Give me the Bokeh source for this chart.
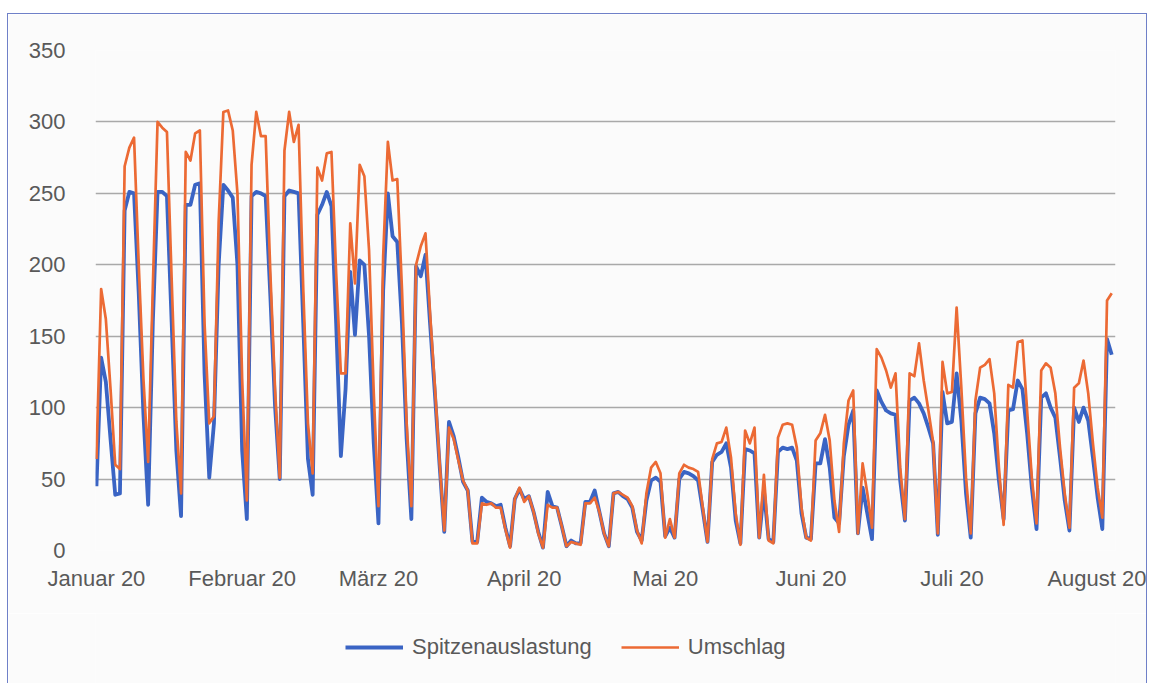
import datetime as dt
from bokeh.plotting import figure
from bokeh.layouts import column
from bokeh.models import FixedTicker, Legend, LegendItem, Range1d
from bokeh.embed import file_html
from bokeh.resources import INLINE

# ---------------- data ----------------
start_date = dt.date(2020, 1, 1)
month_labels = ["Januar 20", "Februar 20", "März 20", "April 20",
                "Mai 20", "Juni 20", "Juli 20", "August 20"]
month_starts = [dt.date(2020, m, 1) for m in range(1, 9)]
y_ticks = [0, 50, 100, 150, 200, 250, 300, 350]

# daily values from 1 Jan 2020
spitzenauslastung = [
    45, 135, 118, 78, 39, 40, 238, 251, 250, 180, 95, 32, 160, 251, 251, 248,
    160, 70, 24, 242, 242, 256, 257, 124, 51, 89, 200, 256, 252, 247, 200, 70,
    22, 248, 251, 250, 248, 178, 101, 50, 248, 252, 251, 250, 159, 64, 39, 235,
    242, 251, 241, 159, 66, 113, 195, 151, 203, 200, 150, 75, 19, 182, 250, 220,
    216, 159, 78, 22, 199, 192, 207, 158, 110, 60, 13, 90, 80, 65, 48, 42,
    6, 6, 37, 34, 33, 31, 32, 16, 3, 36, 43, 36, 38, 27, 13, 2,
    41, 31, 30, 17, 3, 7, 5, 5, 34, 34, 42, 27, 12, 3, 40, 41,
    38, 36, 30, 13, 7, 35, 49, 51, 48, 10, 16, 9, 50, 55, 54, 52,
    49, 28, 6, 62, 67, 69, 75, 58, 21, 5, 71, 70, 68, 9, 42, 8,
    6, 69, 72, 71, 72, 63, 26, 9, 8, 61, 61, 78, 58, 23, 19, 66,
    88, 98, 12, 44, 26, 8, 112, 104, 98, 96, 95, 49, 21, 105, 107, 103,
    96, 86, 75, 11, 111, 89, 90, 124, 91, 40, 9, 96, 107, 106, 103, 82,
    49, 22, 98, 99, 119, 113, 82, 44, 15, 107, 110, 100, 93, 65, 35, 14,
    100, 90, 100, 91, 65, 37, 15, 148, 137,
]
umschlag = [
    64, 183, 162, 113, 60, 57, 269, 282, 289, 200, 120, 62, 185, 300, 296, 293,
    190, 90, 40, 279, 273, 292, 294, 159, 89, 94, 230, 307, 308, 294, 250, 120,
    35, 270, 307, 290, 290, 194, 113, 51, 280, 307, 286, 298, 183, 89, 54, 268,
    259, 278, 279, 194, 124, 124, 229, 187, 270, 262, 210, 110, 31, 206, 286, 259,
    260, 183, 89, 31, 200, 213, 222, 165, 115, 62, 14, 86, 78, 63, 49, 42,
    5, 5, 33, 32, 33, 30, 30, 15, 2, 36, 44, 34, 38, 27, 12, 2,
    32, 30, 30, 17, 3, 6, 5, 4, 33, 33, 37, 27, 12, 3, 40, 41,
    39, 37, 31, 14, 5, 40, 58, 62, 54, 9, 22, 9, 54, 60, 58, 57,
    55, 30, 6, 64, 75, 76, 86, 65, 26, 4, 84, 75, 86, 9, 53, 7,
    5, 79, 88, 89, 88, 72, 30, 9, 7, 77, 82, 95, 77, 35, 13, 75,
    105, 112, 12, 61, 40, 16, 141, 135, 126, 114, 124, 58, 22, 124, 122, 145,
    119, 98, 76, 12, 132, 110, 111, 170, 114, 51, 12, 105, 128, 130, 134, 110,
    58, 18, 116, 114, 146, 147, 98, 51, 19, 126, 131, 128, 110, 72, 40, 16,
    114, 117, 133, 110, 75, 44, 23, 175, 180,
]

days = list(range(len(umschlag)))
tick_pos = [(m - start_date).days for m in month_starts]

FONT = "Liberation Sans"
TXT = "#595959"
BG = "#fbfbfb"
BLUE = "#3a64c4"
ORANGE = "#ec6a34"

# ---------------- main chart ----------------
p = figure(width=1138, height=599, output_backend="svg", toolbar_location=None,
           x_range=Range1d(-0.2, 216.8), y_range=Range1d(0, 350),
           min_border_left=87, min_border_right=31, min_border_top=36,
           min_border_bottom=63,
           background_fill_color=BG, border_fill_color=BG)
p.outline_line_color = None

p.xgrid.grid_line_color = None
p.ygrid.grid_line_color = "#a9a9a9"
p.ygrid.grid_line_width = 1.6

p.yaxis.ticker = FixedTicker(ticks=y_ticks)
p.xaxis.ticker = FixedTicker(ticks=tick_pos)
p.xaxis.major_label_overrides = {t: l for t, l in zip(tick_pos, month_labels)}

for ax in (p.xaxis[0], p.yaxis[0]):
    ax.axis_line_color = None
    ax.major_tick_line_color = None
    ax.major_tick_out = 0
    ax.major_tick_in = 0
    ax.minor_tick_line_color = None
    ax.major_label_text_font = FONT
    ax.major_label_text_font_size = "22px"
    ax.major_label_text_color = TXT
p.yaxis.major_label_standoff = 30
p.xaxis.major_label_standoff = 15

p.line(days, spitzenauslastung, line_color=BLUE, line_width=3.8, line_join="round")
p.line(days, umschlag, line_color=ORANGE, line_width=2.7, line_join="round")

# ---------------- legend strip (series drawn out of view, only the legend shows) ----
lg = figure(width=1138, height=70, output_backend="svg", toolbar_location=None,
            x_range=Range1d(-10, -9), y_range=Range1d(-10, -9),
            x_axis_location=None, y_axis_location=None,
            min_border_left=87, min_border_right=31, min_border_top=0,
            min_border_bottom=0,
            background_fill_color=BG, border_fill_color=BG)
lg.outline_line_color = None
lg.grid.visible = False
lb = lg.line(days, spitzenauslastung, line_color=BLUE, line_width=3.8)
lo = lg.line(days, umschlag, line_color=ORANGE, line_width=2.7)
legend = Legend(items=[LegendItem(label="Spitzenauslastung", renderers=[lb]),
                       LegendItem(label="Umschlag", renderers=[lo])],
                orientation="horizontal", location=(250, 23),
                glyph_width=58, glyph_height=26, label_height=26,
                label_standoff=9, spacing=29, padding=0, margin=0,
                background_fill_alpha=0, border_line_color=None,
                label_text_font=FONT, label_text_font_size="22px",
                label_text_color=TXT)
lg.add_layout(legend, "center")

page = column(p, lg, spacing=0)
page.styles = {"outline": "1px solid #6f80c8", "margin-left": "8px",
               "margin-top": "14px", "margin-bottom": "-10px"}

open("out.html", "w").write(file_html(page, INLINE))
